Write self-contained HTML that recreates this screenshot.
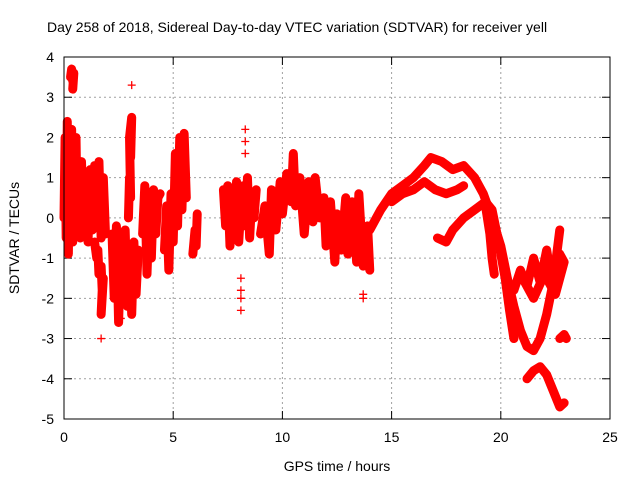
<!DOCTYPE html>
<html><head><meta charset="utf-8"><style>
html,body{margin:0;padding:0;background:#fff;}
svg{display:block;font-family:"Liberation Sans",sans-serif;}
</style></head><body>
<svg id="chart" width="640" height="480" viewBox="0 0 640 480">
<text x="47" y="32" font-size="14" fill="#000">Day 258 of 2018, Sidereal Day-to-day VTEC variation (SDTVAR) for receiver yell</text>
<text x="337" y="471" font-size="14" text-anchor="middle">GPS time / hours</text>
<text transform="translate(19,238) rotate(-90)" font-size="14" text-anchor="middle">SDTVAR / TECUs</text>
<g id="grid"></g><g id="ticks"></g><g id="marks"></g>
<rect x="64" y="57" width="546" height="362" fill="none" stroke="#000" stroke-width="1"/>
</svg>
<script>
const xTicks=[0,5,10,15,20,25];
const yTicks=[-5,-4,-3,-2,-1,0,1,2,3,4];
// tracks (hours, TECU)
const c1x=[0,0.05,0.1,0.15,0.2,0.25,0.3,0.35,0.4,0.45,0.5,0.55,0.6,0.7,0.75,0.8,0.9,1.0,1.1,1.2,1.3,1.4,1.5,1.6,1.7,1.8,1.9];
const c1y=[0,2.0,-0.5,2.4,-0.9,1.6,0.0,2.2,-0.6,1.8,-0.3,2.0,0.2,1.2,-0.5,1.4,0.0,1.0,-0.6,1.2,-0.3,1.3,0.0,1.4,-0.5,1.0,-0.4];
const c1bx=[0.3,0.35,0.4,0.45,0.4];
const c1by=[3.5,3.7,3.4,3.6,3.2];
const c2x=[1.4,1.5,1.55,1.6,1.7,1.75,1.7,1.8];
const c2y=[-0.6,-1.0,-0.8,-1.4,-1.2,-1.8,-2.4,-1.5];
const c2bx=[1.7,2.6];
const c2by=[-3.0,-2.5];
const c3x=[2.2,2.3,2.4,2.5,2.6,2.7,2.8,2.9,3.0,3.1,3.2,3.3,3.4];
const c3y=[-0.4,-2.0,-0.2,-2.6,-0.6,-1.6,-0.3,-2.2,-0.9,-2.4,-0.6,-1.9,-0.8];
const c4x=[2.95,3.0,3.05,3.0,3.1,3.05];
const c4y=[0.0,1.0,0.5,2.0,2.5,1.5];
const c4bx=[3.1];
const c4by=[3.3];
const c5x=[3.6,3.7,3.8,3.9,4.0,4.1,4.2,4.3,4.4];
const c5y=[-0.4,0.8,-1.4,0.2,-1.0,0.7,-0.4,0.5,0.6];
const c6x=[4.6,4.7,4.8,4.9,5.0,5.1,5.2,5.3,5.4,5.5,5.6];
const c6y=[-0.8,0.3,-1.3,0.6,-0.6,1.6,-0.2,2.0,0.2,2.1,0.5];
const c7x=[5.9,6.0,6.05,6.1];
const c7y=[-0.9,-0.3,-0.7,0.1];
const c8x=[7.3,7.4,7.5,7.6,7.7,7.8,7.9,8.0,8.1,8.2,8.3,8.4,8.5,8.6,8.7,8.8];
const c8y=[0.7,-0.2,0.8,-0.7,0.5,-0.3,0.9,-0.6,0.3,0.8,-0.2,1.0,-0.5,0.5,0.0,0.7];
const c8bx=[8.1,8.1,8.1,8.1,8.3,8.3,8.3];
const c8by=[-1.5,-1.8,-2.0,-2.3,1.6,1.9,2.2];
const c9x=[9.0,9.2,9.4,9.5,9.7,9.9,10.0,10.2,10.4,10.5,10.6,10.8,11.0,11.2,11.4,11.5,11.7,11.9,12.0,12.2,12.4,12.5,12.7,12.9,13.0,13.2,13.4,13.5,13.7,13.9,14.0];
const c9y=[-0.4,0.3,-0.9,0.7,-0.3,0.9,0.1,1.1,0.4,1.6,0.3,1.0,-0.4,0.9,-0.1,1.0,0.0,0.5,-0.7,0.4,-1.1,0.1,-0.8,0.5,-0.9,0.4,-1.1,0.6,-1.2,-0.2,-1.3];
const c9bx=[13.7,13.7];
const c9by=[-1.9,-2.0];
const t1x=[14.0,14.5,15.0,15.5,16.0,16.5,16.8,17.3,17.8,18.3,18.8,19.2,19.6,20.0,20.3,20.6,20.9,21.2,21.5,21.8,22.1,22.4,22.7];
const t1y=[-0.3,0.2,0.6,0.8,1.0,1.3,1.5,1.4,1.2,1.3,1.0,0.6,0.0,-0.7,-1.5,-2.2,-2.8,-3.2,-3.3,-3.0,-2.4,-1.6,-0.3];
const t2x=[15.0,15.5,16.0,16.5,17.0,17.5,18.0,18.3];
const t2y=[0.4,0.6,0.7,0.9,0.7,0.6,0.7,0.8];
const t3x=[17.1,17.5,17.8,18.3,18.8,19.3,19.6,19.9,20.2,20.4,20.6];
const t3y=[-0.5,-0.6,-0.3,0.0,0.2,0.4,0.2,-0.6,-1.5,-2.3,-3.0];
const t4x=[19.3,19.5,19.6,19.7];
const t4y=[0.3,-0.4,-1.0,-1.4];
const t5x=[20.6,20.9,21.2,21.5,21.8,22.1,22.4,22.7,22.9,22.5,22.0,21.5,21.0];
const t5y=[-1.8,-1.3,-1.7,-1.0,-1.6,-0.8,-1.8,-0.9,-1.1,-1.9,-1.4,-2.0,-1.5];
const t6x=[21.2,21.5,21.8,22.1,22.4,22.7,22.9];
const t6y=[-4.0,-3.8,-3.7,-3.9,-4.3,-4.7,-4.6];
const t7x=[22.7,22.9,23.0];
const t7y=[-3.0,-2.9,-3.0];
const series=[[c1x,c1y],[c1bx,c1by],[c2x,c2y],[c2bx,c2by,1],[c3x,c3y],[c4x,c4y],[c4bx,c4by,1],[c5x,c5y],[c6x,c6y],[c7x,c7y],[c8x,c8y],[c8bx,c8by,1],[c9x,c9y],[c9bx,c9by,1],[t1x,t1y],[t2x,t2y],[t3x,t3y],[t4x,t4y],[t5x,t5y],[t6x,t6y],[t7x,t7y]];
const X0=64,X1=610,Y0=419,Y1=57,XMIN=0,XMAX=25,YMIN=-5,YMAX=4;
function xs(v){return X0+(v-XMIN)/(XMAX-XMIN)*(X1-X0);}
function ys(v){return Y0-(v-YMIN)/(YMAX-YMIN)*(Y0-Y1);}
const NS='http://www.w3.org/2000/svg';
const grid=document.getElementById('grid'),ticks=document.getElementById('ticks'),marks=document.getElementById('marks');
function mk(t,a){const e=document.createElementNS(NS,t);for(const k in a)e.setAttribute(k,a[k]);return e;}
xTicks.forEach(v=>{const x=xs(v);
 if(v>XMIN&&v<XMAX){const g=mk('line',{x1:x,y1:Y1,x2:x,y2:Y0,stroke:'#a0a0a0','stroke-dasharray':'2,3'});
 
 grid.appendChild(g);}
 const t=mk('line',{x1:x,y1:Y0,x2:x,y2:Y0-8,stroke:'#000'});ticks.appendChild(t);
 const t2=mk('line',{x1:x,y1:Y1,x2:x,y2:Y1+8,stroke:'#000'});ticks.appendChild(t2);
 const l=mk('text',{x:x,y:Y0+23,'font-size':14,'text-anchor':'middle'});l.textContent=v;
 
 ticks.appendChild(l);});
yTicks.forEach(v=>{const y=ys(v);
 if(v>YMIN&&v<YMAX){const g=mk('line',{x1:X0,y1:y,x2:X1,y2:y,stroke:'#a0a0a0','stroke-dasharray':'2,3'});
 
 grid.appendChild(g);}
 const t=mk('line',{x1:X0,y1:y,x2:X0+8,y2:y,stroke:'#000'});ticks.appendChild(t);
 const t2=mk('line',{x1:X1,y1:y,x2:X1-8,y2:y,stroke:'#000'});ticks.appendChild(t2);
 const l=mk('text',{x:X0-10,y:y+5,'font-size':14,'text-anchor':'end'});l.textContent=v;
 
 ticks.appendChild(l);});
series.forEach(s=>{const xa=s[0],ya=s[1];
 if(!s[2]){const p=mk('polyline',{points:xa.map((v,i)=>xs(v)+','+ys(ya[i])).join(' '),fill:'none',stroke:'#ff0000','stroke-width':9,'stroke-linejoin':'round','stroke-linecap':'round'});
 
 marks.appendChild(p);}
 xa.forEach((v,i)=>{const x=xs(v),y=ys(ya[i]);
  const m=mk('path',{d:`M${x-4},${y}H${x+4}M${x},${y-4}V${y+4}`,stroke:'#ff0000','stroke-width':1.3,fill:'none'});
  
  marks.appendChild(m);});});
</script>
</body></html>
